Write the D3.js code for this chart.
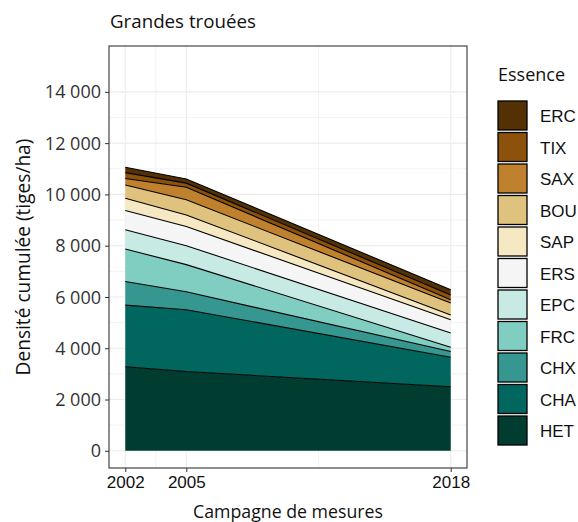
<!DOCTYPE html>
<html><head><meta charset="utf-8">
<script src="https://cdn.jsdelivr.net/npm/d3@7"></script>
<style>body{margin:0;background:#fff}</style>
</head><body>
<svg id="c" width="578" height="522"></svg>
<script>
const years = [2002, 2005, 2018];
const species = ["HET","CHA","CHX","FRC","EPC","ERS","SAP","BOU","SAX","TIX","ERC"];
const HET = [3280, 3090, 2500];
const CHA = [2400, 2410, 1150];
const CHX = [920, 700, 220];
const FRC = [1270, 1060, 170];
const EPC = [750, 740, 550];
const ERS = [750, 750, 520];
const SAP = [480, 450, 190];
const BOU = [520, 590, 460];
const SAX = [250, 490, 130];
const TIX = [230, 160, 190];
const ERC = [210, 160, 200];
const colors = ["#003c30","#01665e","#35978f","#80cdc1","#c7eae5","#f5f5f5","#f6e8c3","#dfc27d","#bf812d","#8c510a","#543005"];
const yTicks = [0,2000,4000,6000,8000,10000,12000,14000];
const title = "Grandes trouées";
const xTitle = "Campagne de mesures";
const yTitle = "Densité cumulée (tiges/ha)";
const legendTitle = "Essence";

const seriesVals = {HET,CHA,CHX,FRC,EPC,ERS,SAP,BOU,SAX,TIX,ERC};
const table = years.map((y,i)=>{const r={year:y}; species.forEach(s=>r[s]=seriesVals[s][i]); return r;});
const stack = d3.stack().keys(species)(table);

const svg = d3.select("#c");
const L=109,R=467,T=46,B=468;
const x = d3.scaleLinear().domain([2002-0.8, 2018+0.8]).range([L,R]);
const y = d3.scaleLinear().domain([-750, 15750]).range([B+2, T+1]);

function fit(sel, target){
  const n = sel.node();
  const s0 = parseFloat(n.style.fontSize);
  const len = n.getComputedTextLength();
  if(len>0) sel.style("font-size", (s0*target/len).toFixed(2)+"px");
  return sel;
}

// grid
const g = svg.append("g");
const minorY = d3.range(1000, 15000, 2000);
g.selectAll(".my").data(minorY).join("line").attr("x1",L).attr("x2",R).attr("y1",d=>y(d)).attr("y2",d=>y(d)).attr("stroke","#ebebeb").attr("stroke-width",0.6);
g.selectAll(".My").data(yTicks).join("line").attr("x1",L).attr("x2",R).attr("y1",d=>y(d)).attr("y2",d=>y(d)).attr("stroke","#ebebeb").attr("stroke-width",1.1);
const minorX = [2003.5, 2011.5];
g.selectAll(".mx").data(minorX).join("line").attr("y1",T).attr("y2",B).attr("x1",d=>x(d)).attr("x2",d=>x(d)).attr("stroke","#ebebeb").attr("stroke-width",0.6);
g.selectAll(".Mx").data(years).join("line").attr("y1",T).attr("y2",B).attr("x1",d=>x(d)).attr("x2",d=>x(d)).attr("stroke","#ebebeb").attr("stroke-width",1.1);

// areas
const area = d3.area().x(d=>x(d.data.year)).y0(d=>y(d[0])).y1(d=>y(d[1]));
const line = d3.line().x(d=>x(d.data.year)).y(d=>y(d[1]));
svg.append("g").selectAll("path").data(stack).join("path").attr("d",area).attr("fill",(d,i)=>colors[i]);
svg.append("g").selectAll("path").data(stack).join("path").attr("d",line).attr("fill","none").attr("stroke","#000").attr("stroke-width",1.1);

// border
svg.append("rect").attr("x",L).attr("y",T).attr("width",R-L).attr("height",B-T).attr("fill","none").attr("stroke","#333").attr("stroke-width",1.1);

// axes
const ya = d3.axisLeft(y).tickValues(yTicks).tickSize(4).tickPadding(4).tickFormat(d=>d3.format(",")(d).replace(/,/g," "));
const yg = svg.append("g").attr("transform",`translate(${L},0)`).call(ya);
yg.select(".domain").remove();
yg.selectAll(".tick line").attr("stroke","#333");
yg.selectAll("text").attr("fill","#333").style("font-family","'Open Sans'").style("font-size","18px").attr("dy","0.34em");
const xa = d3.axisBottom(x).tickValues(years).tickSize(4).tickPadding(4).tickFormat(d3.format("d"));
const xg = svg.append("g").attr("transform",`translate(0,${B})`).call(xa);
xg.select(".domain").remove();
xg.selectAll(".tick line").attr("stroke","#333");
xg.selectAll("text").attr("fill","#111").style("font-family","'Liberation Sans'").style("font-size","17px");

const tt = svg.append("text").attr("x",110).attr("y",28).text(title).style("font-family","'Open Sans'").style("font-size","17px").attr("fill","#111");
fit(tt,146);
const xt = svg.append("text").attr("x",(L+R)/2).attr("y",518).attr("text-anchor","middle").text(xTitle).style("font-family","'Open Sans'").style("font-size","17px").attr("fill","#111");
fit(xt,190);
const yt = svg.append("text").attr("transform",`translate(30,${(T+B)/2}) rotate(-90)`).attr("text-anchor","middle").text(yTitle).style("font-family","'Open Sans'").style("font-size","17px").attr("fill","#111");
fit(yt,237);

// legend
const lg = svg.append("g");
const lt = lg.append("text").attr("x",498).attr("y",81).text(legendTitle).style("font-family","'Open Sans'").style("font-size","16px").attr("fill","#111");
fit(lt,67);
const legOrder = species.slice().reverse();
legOrder.forEach((s,i)=>{
  const yy = 101 + i*31.5;
  lg.append("rect").attr("x",498).attr("y",yy).attr("width",29).attr("height",29).attr("fill",colors[species.indexOf(s)]).attr("stroke","#000").attr("stroke-width",1.3);
  lg.append("text").attr("x",540).attr("y",yy+15).attr("dy","0.36em").text(s).style("font-family","'Liberation Sans Narrow','Liberation Sans'").style("font-size","17px").attr("fill","#111");
});
</script>
</body></html>
